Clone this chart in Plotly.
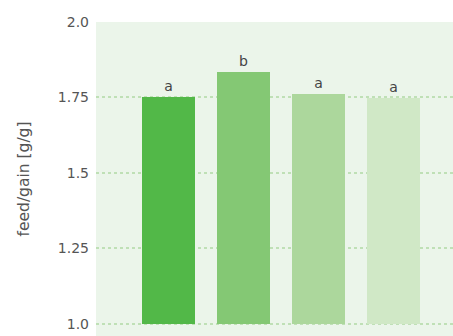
import plotly.graph_objects as go

categories = ["T1", "T2", "T3", "T4"]
values = [1.75, 1.833, 1.76, 1.748]
letters = ["a", "b", "a", "a"]
colors = ["#52b848", "#84c874", "#acd79c", "#d0e8c6"]
tick_vals = [1.0, 1.25, 1.5, 1.75, 2.0]
tick_text = ["1.0", "1.25", "1.5", "1.75", "2.0"]
base_val = 1.0

FONT = "DejaVu Sans, sans-serif"

fig = go.Figure()
fig.add_trace(go.Bar(
    x=list(range(len(categories))),
    y=[v - base_val for v in values],
    base=base_val,
    marker=dict(color=colors, line=dict(width=0)),
    width=0.707,
    text=letters,
    textposition="outside",
    textfont=dict(size=14, color="#444444", family=FONT),
    cliponaxis=False,
    hoverinfo="skip",
))

fig.update_layout(
    width=453, height=336,
    margin=dict(l=96, r=0, t=22, b=0),
    paper_bgcolor="white",
    plot_bgcolor="#ebf5ea",
    showlegend=False,
    font=dict(family=FONT, size=14, color="#555555"),
    bargap=0,
)
fig.update_xaxes(
    range=[-0.97, 3.79],
    showticklabels=False, showgrid=False, zeroline=False, showline=False,
)
fig.update_yaxes(
    range=[0.96, 2.0],
    tickvals=tick_vals, ticktext=tick_text,
    showgrid=True, gridcolor="#bfe0b6", gridwidth=1.5, griddash="dot",
    zeroline=False, showline=False,
    ticks="", ticklabelstandoff=6,
    title=dict(text="feed/gain [g/g]", standoff=24, font=dict(size=15.5, color="#555555")),
    tickfont=dict(size=14, color="#555555"),
)

fig.write_html("out.html")
